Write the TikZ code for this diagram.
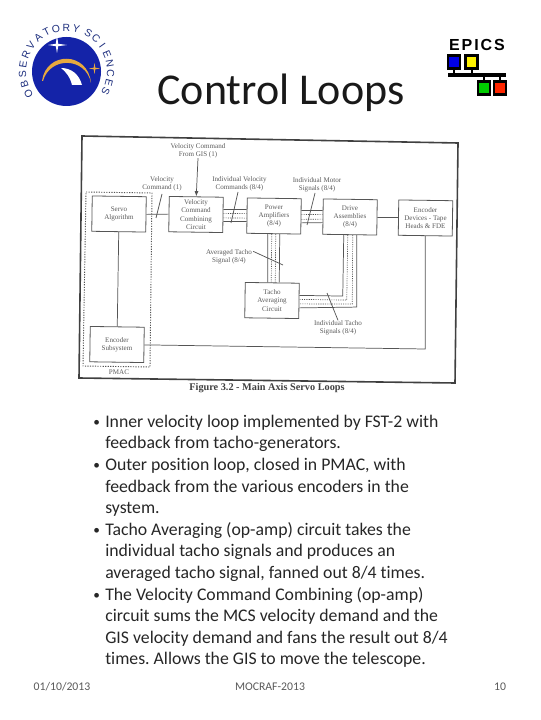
\documentclass[tikz,border=0pt]{standalone}
\usepackage{fontspec}
\setmainfont{Carlito}[Ligatures=NoCommon]
\newfontfamily\scanfont{Liberation Serif}
\newfontfamily\logofont{Liberation Sans}
\usetikzlibrary{calc,arrows.meta}
\frenchspacing
\definecolor{scanline}{HTML}{555555}
\definecolor{scantext}{HTML}{5A5A5A}
\definecolor{logoblue}{HTML}{1423A8}
\definecolor{logotext}{HTML}{1E2F7E}
\definecolor{logoorange}{HTML}{E8A93E}
\definecolor{slidetext}{HTML}{262626}
\tikzset{
  sbox/.style={draw=scanline,line width=0.6pt,rotate=-0.8,minimum width=40.5pt,minimum height=26.5pt,inner sep=0pt},
  lab/.style={text=scantext,align=center,inner sep=0pt,font=\scanfont\fontsize{5.3}{6.25}\selectfont},
  wire/.style={draw=scanline,line width=0.55pt},
  dots/.style={draw=scanline,line width=0.5pt,dash pattern=on 0.8pt off 0.9pt},
  pmac/.style={draw=scanline,line width=0.7pt,dash pattern=on 0.9pt off 1pt},
  bul/.style={anchor=base west,inner sep=0pt,text=slidetext,font=\fontsize{13.3}{15}\selectfont},
  buldot/.style={anchor=base west,inner sep=0pt,text=slidetext,font=\fontsize{10}{12}\selectfont},
  foot/.style={inner sep=0pt,text=black!65,font=\fontsize{8.8}{10}\selectfont},
  epicsbox/.style={draw=black,line width=2.2pt,minimum width=9pt,minimum height=10pt,inner sep=0pt},
}
\begin{document}
\begin{tikzpicture}[x=0.75pt,y=-0.75pt]
\useasboundingbox (0,0) rectangle (540,720);
% logo
\fill[logoblue] (66.5,71.5) circle (34.5);
\fill[logoorange] (42,81) .. controls (46,51) and (88,51) .. (91,83) .. controls (86,57) and (50,56) .. (43,81) -- cycle;
\fill[white] (61,68) .. controls (71,68) and (79,74) .. (82,85) -- (72,85) .. controls (70,77) and (67,73) .. (61,68) -- cycle;
\fill[white] (57,35) -- (58.2,43.8) -- (67,45) -- (58.2,46.2) -- (57,53) -- (55.8,46.2) -- (48,45) -- (55.8,43.8) -- cycle;
\fill[logoorange] (94.5,63) -- (95.3,67.7) -- (100,68.5) -- (95.3,69.3) -- (94.5,74) -- (93.7,69.3) -- (89,68.5) -- (93.7,67.7) -- cycle;
\foreach \ch/\ang [count=\i] in {O/210,B/197,S/184,E/171,R/157,V/144,A/130,T/117,O/104,R/90,Y/77,S/60,C/48,I/35.5,E/23,N/10.5,C/-2,E/-15,S/-27}
  \node[text=logotext,inner sep=0pt,rotate={\ang-90},font=\logofont\fontsize{7.8}{8}\selectfont] (logo\i) at ({66.5+44*cos(\ang)},{71.5-44*sin(\ang)}) {\ch};
% EPICS logo
\node[inner sep=0pt,font=\logofont\bfseries\fontsize{12}{13}\selectfont] (epics) at (477,45) {\addfontfeature{LetterSpace=12}EPICS};
\node[epicsbox,fill=blue!90!black] (eb) at (454,62) {};
\node[epicsbox,fill=yellow] (ey) at (471.5,62) {};
\node[epicsbox,fill=green!80!black] (eg) at (484,88) {};
\node[epicsbox,fill=red!70!orange] (er) at (500,88) {};
\coordinate (barl) at (448,75);
\coordinate (barr) at (506,75);
\draw[line width=2.4pt] (barl) -- (barr);
\draw[line width=1.5pt] (eb.south) -- (eb.south |- barl);
\draw[line width=1.5pt] (ey.south) -- (ey.south |- barl);
\draw[line width=1.5pt] (eg.north) -- (eg.north |- barl);
\draw[line width=1.5pt] (er.north) -- (er.north |- barl);
% title
\node[inner sep=0pt,font=\fontsize{33}{36}\selectfont,text=black!90] (title) at (281,93) {Control Loops};
% scan frame
\coordinate (f1) at (82,136);
\coordinate (f2) at (458,143);
\coordinate (f3) at (455,383);
\coordinate (f4) at (79,378);
\draw[draw=black!75,line width=1.2pt] (f1) -- (f2) -- (f3) -- (f4) -- cycle;
% boxes
\node[sbox] (servo) at (119,214) {};
\node[sbox] (vc) at (196,214.5) {};
\node[sbox] (pa) at (274,216) {};
\node[sbox] (da) at (350,217) {};
\node[sbox] (ed) at (425.5,218) {};
\node[sbox] (es) at (117,344.5) {};
\node[sbox] (ta) at (272,300.5) {};
\node[lab] (servot) at (servo) {Servo\\Algorithm};
\node[lab] (vct) at (vc) {Velocity\\Command\\Combining\\Circuit};
\node[lab] (pat) at (pa) {Power\\Amplifiers\\(8/4)};
\node[lab] (dat) at (da) {Drive\\Assemblies\\(8/4)};
\node[lab] (edt) at (ed) {Encoder\\Devices - Tape\\Heads \& FDE};
\node[lab] (est) at (es) {Encoder\\Subsystem};
\node[lab] (tat) at (ta) {Tacho\\Averaging\\Circuit};
% PMAC
\coordinate (p1) at (86,192);
\coordinate (p2) at (152,193);
\coordinate (p3) at (150,367);
\coordinate (p4) at (83,366);
\draw[pmac] (p1) -- (p2) -- (p3) -- (p4) -- cycle;
\node[lab] (pmaclab) at (119,372.5) {PMAC};
% labels
\node[lab] (l1) at (198,150.5) {Velocity Command\\From GIS (1)};
\node[lab] (l2) at (162,184) {Velocity\\Command (1)};
\node[lab] (l3) at (239.5,184) {Individual Velocity\\Commands (8/4)};
\node[lab] (l4) at (317,185) {Individual Motor\\Signals (8/4)};
\node[lab] (l5) at (229,257) {Averaged Tacho\\Signal (8/4)};
\node[lab] (l6) at (338,328) {Individual Tacho\\Signals (8/4)};
% wires
\draw[wire] (servo.east) -- (vc.west);
\draw[wire,-{Latex[length=4pt,width=3pt]}] (l1.south) -- (vc.north);
\draw[wire] (servo.south) -- (es.north);
\draw[wire] (da.east) -- (ed.west);
\coordinate (corner) at (ed.south |- 349,349);
\draw[wire] (es.east) -- (corner) -- (ed.south);
% buses
\draw[wire] ($(vc.east)+(0,-5.5)$) -- ($(pa.west)+(0,-6)$);
\draw[wire] ($(vc.east)+(0,6.5)$) -- ($(pa.west)+(0,6)$);
\draw[dots] ($(vc.east)+(0,-1.5)$) -- ($(pa.west)+(0,-2)$);
\draw[dots] ($(vc.east)+(0,3)$) -- ($(pa.west)+(0,2.5)$);
\draw[wire] ($(pa.east)+(0,-6)$) -- ($(da.west)+(0,-6)$);
\draw[wire] ($(pa.east)+(0,6.5)$) -- ($(da.west)+(0,6)$);
\draw[dots] ($(pa.east)+(0,-2)$) -- ($(da.west)+(0,-2)$);
\draw[dots] ($(pa.east)+(0,3)$) -- ($(da.west)+(0,2.5)$);
\draw[wire] ($(pa.south)+(-6,0)$) -- ($(ta.north)+(-4.5,0)$);
\draw[wire] ($(pa.south)+(6,0)$) -- ($(ta.north)+(7,0)$);
\draw[dots] ($(pa.south)+(-2,0)$) -- ($(ta.north)+(-1,0)$);
\draw[dots] ($(pa.south)+(2,0)$) -- ($(ta.north)+(3,0)$);
\draw[wire] ($(da.south)+(-6,0)$) -- ++(-1,61) -- ($(ta.east)+(0,-5.5)$);
\draw[wire] ($(da.south)+(7,0)$) -- ++(0,72) -- ($(ta.east)+(0,7)$);
\draw[dots] ($(da.south)+(-2,0)$) -- ++(-1,65) -- ($(ta.east)+(0,-1.5)$);
\draw[dots] ($(da.south)+(3,0)$) -- ++(-0.5,69) -- ($(ta.east)+(0,3)$);
% leaders
\coordinate (t2) at (156,218);
\coordinate (t3) at (231,223);
\coordinate (t4) at (307,225);
\coordinate (t5) at (283,265);
\coordinate (t6) at (327,293);
\draw[wire] (162,194) -- (t2);
\draw[wire] (238,192) -- (t3);
\draw[wire] (315,193) -- (t4);
\draw[wire] (l5.north east) ++(1,2) -- (t5);
\draw[wire] (l6.north) -- (t6);
% caption
\node[inner sep=0pt,text=black!75,font=\fontsize{7.7}{9}\selectfont\scanfont\bfseries] (cap) at (267,388) {Figure 3.2 - Main Axis Servo Loops};
% bullets
\foreach \yy/\tx [count=\k] in {
 422/{Inner velocity loop implemented by FST-2 with},
 443/{feedback from tacho-generators.},
 465/{Outer position loop, closed in PMAC, with},
 487/{feedback from the various encoders in the},
 508/{system.},
 530/{Tacho Averaging (op-amp) circuit takes the},
 551/{individual tacho signals and produces an},
 573/{averaged tacho signal, fanned out 8/4 times.},
 595/{The Velocity Command Combining (op-amp)},
 616/{circuit sums the MCS velocity demand and the},
 638/{GIS velocity demand and fans the result out 8/4},
 659/{times. Allows the GIS to move the telescope.}}
  \node[bul] (line\k) at (105,\yy+5.5) {\tx};
\foreach \yy [count=\k] in {422,465,530,595}
  \node[buldot] (dot\k) at (93,\yy+4.2) {•};
% footer
\node[foot] (date) at (62,687) {01/10/2013};
\node[foot] (conf) at (270,687) {MOCRAF-2013};
\node[foot] (page) at (500,687) {10};
\end{tikzpicture}
\end{document}
